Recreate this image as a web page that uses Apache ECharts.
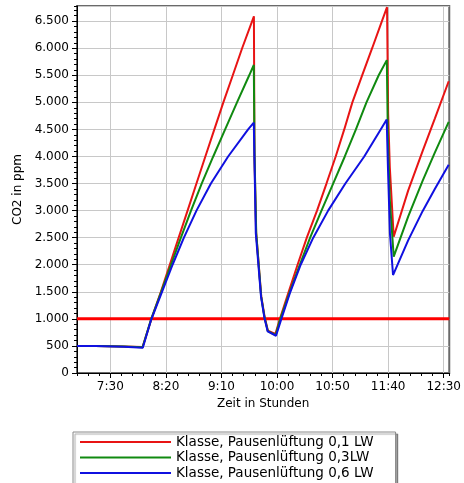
<!DOCTYPE html>
<html>
<head>
<meta charset="utf-8">
<script src="https://cdn.jsdelivr.net/npm/echarts@6/dist/echarts.min.js"></script>
<style>html,body{margin:0;padding:0;background:#fff;}#c{width:464px;height:483px;}</style>
</head>
<body>
<div id="c"></div>
<script>
// ---- data (time in minutes since midnight, CO2 in ppm) ----
const seriesNames = ['Klasse, Pausenlüftung 0,1 LW', 'Klasse, Pausenlüftung 0,3LW', 'Klasse, Pausenlüftung 0,6 LW'];
const xTickValues = [450, 500, 550, 600, 650, 700, 750];
const thresholdValue = 1000;

const redTimes = [420, 437, 437.5, 462, 462.5, 479, 487, 495.5, 503.5, 511.5, 519.5, 527.5, 535.5, 543.6, 551.7, 560.2, 568.6, 579.2,
  579.7, 581.2, 585.8, 588.9, 591.8, 598.5,
  602.6, 610.5, 618.5, 626.8, 636, 644.5, 652.8, 660.5, 667.8, 676.6, 685.6, 694.4, 699,
  700, 701.5, 705, 718, 731, 742, 754.5];
const redValues = [500, 500, 490, 490, 480, 480, 1000, 1500, 2000, 2500, 3000, 3500, 4000, 4500, 5000, 5500, 6000, 6590,
  4000, 2600, 1420, 1030, 780, 720,
  1000, 1500, 2000, 2500, 3000, 3500, 4000, 4500, 5000, 5500, 6000, 6500, 6758,
  4800, 3800, 2518, 3370, 4100, 4700, 5390];

const greenTimes = [420, 437, 437.5, 462, 462.5, 479, 486.8, 495.8, 504.6, 513.5, 522.6, 532.2, 542.6, 553.3, 564, 575, 579.1,
  579.8, 581.3, 585.7, 588.8, 591.7, 598.8,
  603, 611.5, 620.5, 629.8, 640, 650.5, 661, 671, 680.5, 691.5, 698.8,
  699.8, 701.5, 705, 718, 731, 742, 754.5];
const greenValues = [500, 500, 488, 488, 475, 475, 1000, 1500, 2000, 2500, 3000, 3500, 4000, 4500, 5000, 5500, 5690,
  4000, 2580, 1415, 1020, 775, 700,
  1000, 1500, 2000, 2500, 3000, 3500, 4000, 4500, 5000, 5500, 5780,
  4300, 3200, 2150, 2890, 3550, 4070, 4640];

const blueTimes = [420, 437, 437.5, 462, 462.5, 479.2, 486.7, 496.5, 506, 516.2, 527.5, 540.5, 556, 574, 579.1,
  579.9, 580.9, 585.6, 588.7, 591.6, 599.1,
  603.9, 612, 621.3, 632.6, 646, 661.5, 678.5, 693.3, 698.7,
  699.8, 701.6, 704.4, 718, 731, 742, 754.5];
const blueValues = [500, 500, 485, 485, 467, 467, 983, 1500, 2000, 2500, 3000, 3500, 4000, 4500, 4625,
  3716, 2581, 1412, 1014, 767, 688,
  1000, 1500, 2000, 2500, 3000, 3500, 4000, 4500, 4685,
  3809, 2581, 1810, 2450, 2990, 3400, 3845];

const seriesColors = ['#e81414', '#108a10', '#1010e0'];

function zip(t, v) { return t.map((x, i) => [x, v[i]]); }
function fmtTime(v) { const h = Math.floor(v / 60), m = Math.round(v % 60); return h + ':' + (m < 10 ? '0' + m : m); }
function fmtNum(v) { if (v < 1000) return String(v); const r = v % 1000; return Math.floor(v / 1000) + '.' + String(r).padStart(3, '0'); }

const FONT = 'DejaVu Sans';
const chart = echarts.init(document.getElementById('c'), null, { renderer: 'canvas' });
const XMIN = 420, XMAX = 755, YMIN = 0, YMAX = 6780;

chart.setOption({
  animation: false,
  textStyle: { fontFamily: FONT },
  grid: { left: 77, right: 13, top: 6, bottom: 110, show: true, borderColor: '#6a6a6a', borderWidth: 2, backgroundColor: '#fff' },
  legend: {
    data: seriesNames,
    orient: 'vertical',
    left: 73, top: 432, height: 60,
    icon: 'rect', itemWidth: 91, itemHeight: 2, itemGap: 1.5,
    padding: [3, 22, 5, 7],
    borderColor: '#8a8a8a', borderWidth: 1, backgroundColor: '#fff',
    shadowColor: 'rgba(0,0,0,0.35)', shadowOffsetX: 2, shadowOffsetY: 2, shadowBlur: 1,
    textStyle: { fontFamily: FONT, fontSize: 13.5, color: '#000', lineHeight: 14, padding: 0 },
    selectedMode: false
  },
  xAxis: [{
    type: 'value', min: XMIN, max: XMAX,
    name: 'Zeit in Stunden', nameLocation: 'middle', nameGap: 23,
    nameTextStyle: { fontFamily: FONT, fontSize: 12, color: '#000' },
    axisLine: { show: true, lineStyle: { color: '#000', width: 1 } },
    axisTick: { show: true, customValues: xTickValues, length: 5, lineStyle: { color: '#000' } },
    axisLabel: { customValues: xTickValues, formatter: fmtTime, fontFamily: FONT, fontSize: 12, color: '#000', margin: 8 },
    splitLine: { show: true, lineStyle: { color: '#c8c8c8', width: 1 } }
  }, {
    type: 'value', min: XMIN, max: XMAX, interval: 10, position: 'bottom',
    axisLine: { show: false }, axisLabel: { show: false },
    axisTick: { show: true, length: 3, lineStyle: { color: '#000' } },
    splitLine: { show: false }
  }],
  yAxis: [{
    type: 'value', min: YMIN, max: YMAX, interval: 500,
    name: 'CO2 in ppm', nameLocation: 'middle', nameGap: 53,
    nameTextStyle: { fontFamily: FONT, fontSize: 12, color: '#000' },
    axisLine: { show: true, lineStyle: { color: '#000', width: 1 } },
    axisTick: { show: true, length: 5, lineStyle: { color: '#000' } },
    axisLabel: { formatter: fmtNum, showMaxLabel: false, fontFamily: FONT, fontSize: 12, color: '#000', margin: 8 },
    splitLine: { show: true, lineStyle: { color: '#c8c8c8', width: 1 } }
  }, {
    type: 'value', min: YMIN, max: YMAX, interval: 100, position: 'left',
    axisLine: { show: false }, axisLabel: { show: false },
    axisTick: { show: true, length: 3, lineStyle: { color: '#000' } },
    splitLine: { show: false }
  }],
  series: [
    { name: 'Grenzwert', type: 'line', data: [[XMIN, thresholdValue], [XMAX, thresholdValue]], showSymbol: false, silent: true,
      lineStyle: { color: '#ff0000', width: 3 }, z: 1 },
    { name: seriesNames[0], type: 'line', data: zip(redTimes, redValues), showSymbol: false, color: seriesColors[0], lineStyle: { width: 2 }, z: 2 },
    { name: seriesNames[1], type: 'line', data: zip(greenTimes, greenValues), showSymbol: false, color: seriesColors[1], lineStyle: { width: 2 }, z: 3 },
    { name: seriesNames[2], type: 'line', data: zip(blueTimes, blueValues), showSymbol: false, color: seriesColors[2], lineStyle: { width: 2 }, z: 4 }
  ]
});
</script>
</body>
</html>
